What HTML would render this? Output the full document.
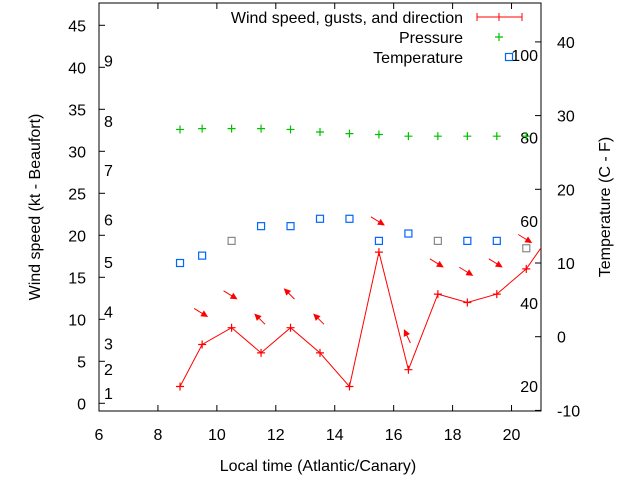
<!DOCTYPE html>
<html><head><meta charset="utf-8"><style>
body{margin:0;background:#fff;}
svg{display:block;font-family:"Liberation Sans",sans-serif;font-size:16px;}
</style></head><body>
<svg id="chart" width="640" height="480" viewBox="0 0 640 480">
</svg>
<script>
const times=[8.75,9.5,10.5,11.5,12.5,13.5,14.5,15.5,16.5,17.5,18.5,19.5,20.5,21.5];
const windSpeed=[2,7,9,6,9,6,2,18,4,13,12,13,16,21];
const pressure=[32.6,32.7,32.7,32.7,32.6,32.3,32.1,32.0,31.8,31.8,31.8,31.8,31.8];
const temperature=[10,11,13,15,15,16,16,13,14,13,13,13,12];
const tempColors=['#0066ff','#0066ff','#888','#0066ff','#0066ff','#0066ff','#0066ff','#0066ff','#0066ff','#888','#0066ff','#0066ff','#888'];
const arrowTimes=[9.5,10.5,11.5,12.5,13.5,15.5,16.5,17.5,18.5,19.5,20.5];
const gusts=[10.7,12.8,10,13,10,21.6,8,16.6,15.6,16.6,19.5];
const arrowDirs=[1,1,-1,-1,-1,1,-2,1,1,1,1];
const xTicks=[6,8,10,12,14,16,18,20];
const yTicks=[0,5,10,15,20,25,30,35,40,45];
const y2Ticks=[-10,0,10,20,30,40];
const beaufort=[[1,1.2],[2,4.1],[3,7.1],[4,10.9],[5,16.8],[6,21.9],[7,27.8],[8,33.6],[9,40.8]];
const fahr=[[20,-6.7],[40,4.6],[60,15.7],[80,27],[100,38.2]];
const L=99,R=541,T=3,B=411;
const X=t=>L+(t-6)*(R-L)/15;
const Y=v=>403.3-v*8.4;
const Y2=v=>336.7-v*7.37;
const svg=document.getElementById('chart');
const NS='http://www.w3.org/2000/svg';
function mk(tag,attrs,txt){const e=document.createElementNS(NS,tag);for(const k in attrs)e.setAttribute(k,attrs[k]);if(txt!==undefined)e.textContent=txt;svg.appendChild(e);return e;}
let f=mk('rect',{x:L,y:T,width:R-L,height:B-T,fill:'none',stroke:'#000','stroke-width':1});


const defs=mk('defs',{});const cp=document.createElementNS(NS,'clipPath');cp.setAttribute('id','clip');const cr=document.createElementNS(NS,'rect');cr.setAttribute('x',L);cr.setAttribute('y',T);cr.setAttribute('width',R-L);cr.setAttribute('height',B-T);cp.appendChild(cr);defs.appendChild(cp);
xTicks.forEach(t=>{
 mk('line',{x1:X(t),x2:X(t),y1:B,y2:B-6,stroke:'#000'});mk('line',{x1:X(t),x2:X(t),y1:T,y2:T+6,stroke:'#000'});
 const e=mk('text',{x:X(t),y:B+29,'text-anchor':'middle'},t);
 
 
});
yTicks.forEach(v=>{
 mk('line',{x1:L,x2:L+6,y1:Y(v),y2:Y(v),stroke:'#000'});
 const e=mk('text',{x:L-13,y:Y(v)+6,'text-anchor':'end'},v);
 
 
});
y2Ticks.forEach(v=>{
 mk('line',{x1:R,x2:R-6,y1:Y2(v),y2:Y2(v),stroke:'#000'});
 const e=mk('text',{x:R+16,y:Y2(v)+6,'text-anchor':'start'},v);
 
 
});
beaufort.forEach(([n,v])=>{
 const e=mk('text',{x:104,y:Y(v)+6},n);
 
 
});
fahr.forEach(([n,v])=>{
 const e=mk('text',{x:538,y:Y2(v)+6,'text-anchor':'end'},n);
 
 
});
let t1=mk('text',{x:318,y:471,'text-anchor':'middle'},'Local time (Atlantic/Canary)');


let t2=mk('text',{x:0,y:0,'text-anchor':'middle',transform:'translate(40,207) rotate(-90)'},'Wind speed (kt - Beaufort)');


let t3=mk('text',{x:0,y:0,'text-anchor':'middle',transform:'translate(610,207) rotate(-90)'},'Temperature (C - F)');


const g=mk('g',{'clip-path':'url(#clip)'});
const pl=document.createElementNS(NS,'polyline');
pl.setAttribute('points',times.map((t,i)=>X(t)+','+Y(windSpeed[i])).join(' '));
pl.setAttribute('fill','none');pl.setAttribute('stroke','#f00');


g.appendChild(pl);
function plus(x,y,c,name){const p=mk('path',{d:`M${x-4} ${y}h8M${x} ${y-4}v8`,stroke:c,'stroke-width':1.2});return p;}
times.forEach((t,i)=>{if(t<=21)plus(X(t),Y(windSpeed[i]),'#f00','wind-point');});
pressure.forEach((v,i)=>plus(X(times[i]),Y(v),'#00c000','pressure-point'));
temperature.forEach((v,i)=>{
 const r=mk('rect',{x:X(times[i])-3.5,y:Y2(v)-3.5,width:7,height:7,fill:'none',stroke:tempColors[i],'stroke-width':1.2});
 
 
});
arrowTimes.forEach((t,i)=>{
 const cx=X(t)-1,cy=Y(gusts[i]);const d=arrowDirs[i];
 let x1,y1,x2,y2;
 if(d===1){x1=cx-7;y1=cy-5;x2=cx+6;y2=cy+3;}else if(d===-1){x1=cx+5;y1=cy+5;x2=cx-5;y2=cy-5;}else{x1=cx+3;y1=cy+7;x2=cx-3;y2=cy-6;}
 const a=Math.atan2(y2-y1,x2-x1),h=6;
 const p=mk('path',{d:`M${x1} ${y1}L${x2} ${y2}M${x2} ${y2}L${x2-h*Math.cos(a-0.45)} ${y2-h*Math.sin(a-0.45)}L${x2-h*Math.cos(a+0.45)} ${y2-h*Math.sin(a+0.45)}Z`,stroke:'#f00',fill:'#f00','stroke-width':1});
 
 
});
const lg=[['Wind speed, gusts, and direction',17],['Pressure',37],['Temperature',57]];
lg.forEach(([s,y])=>{const e=mk('text',{x:463,y:y+6,'text-anchor':'end'},s);});
mk('path',{d:'M477 17h45M477 13v8M522 13v8M499 13v8',stroke:'#f00'});
plus(499,37,'#00c000','legend-pressure-marker');
mk('rect',{x:505.5,y:53.5,width:7,height:7,fill:'none',stroke:'#0066ff','stroke-width':1.2});
</script>
</body></html>
